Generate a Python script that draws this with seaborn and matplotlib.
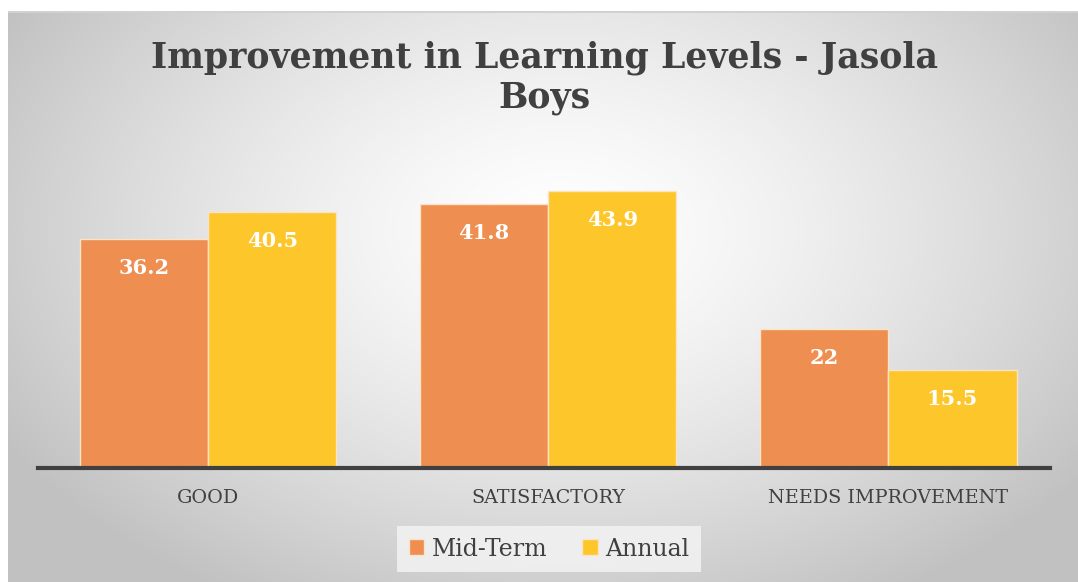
import numpy as np
import pandas as pd
import matplotlib
matplotlib.use("Agg")
import matplotlib.pyplot as plt
import seaborn as sns
from matplotlib.patches import Patch

categories = ["GOOD", "SATISFACTORY", "NEEDS IMPROVEMENT"]
series_names = ["Mid-Term", "Annual"]
mid_term = [36.2, 41.8, 22]
annual = [40.5, 43.9, 15.5]
title = "Improvement in Learning Levels - Jasola\nBoys"

colors = ["#EE8E50", "#FDC62A"]

df = pd.DataFrame({
    "Category": categories * 2,
    "Series": [series_names[0]] * 3 + [series_names[1]] * 3,
    "Value": mid_term + annual,
})

sns.set_theme(style="white")
plt.rcParams["font.family"] = ["DejaVu Serif"]

W, H = 1078, 582
fig = plt.figure(figsize=(W / 100, H / 100), dpi=100)

# radial gradient background
bg = fig.add_axes([0, 0, 1, 1], zorder=-10)
yy, xx = np.mgrid[0:H, 0:W]
r = np.sqrt(((xx - 560) / 640.0) ** 2 + ((yy - 230) / 420.0) ** 2)
g = 1.0 - 0.24 * np.clip(r, 0, 1.0) ** 1.4
img = np.dstack([g, g, g])
img[:11, :, :] = 1.0
img[11:13, 8:, :] = 0.82
img[:, :8, :] = 1.0
bg.imshow(img, extent=[0, W, H, 0], aspect="auto", interpolation="bilinear")
bg.set_axis_off()

ax = fig.add_axes([38 / W, 1 - 468 / H, (1050 - 38) / W, (468 - 152) / H])
ax.patch.set_alpha(0)
sns.barplot(data=df, x="Category", y="Value", hue="Series", palette=colors,
            saturation=1, width=0.755, edgecolor="#fbe3c8", linewidth=1.0,
            ax=ax, legend=False)

ax.set_xlim(-0.5, 2.476)
ax.set_ylim(0, 50)
ax.set_xlabel("")
ax.set_ylabel("")
ax.set_yticks([])
for s in ["top", "right", "left"]:
    ax.spines[s].set_visible(False)
ax.spines["bottom"].set_color("#404040")
ax.spines["bottom"].set_linewidth(3)
ax.tick_params(axis="x", length=0, pad=15, labelsize=13.8, labelcolor="#404040")

for cont in ax.containers:
    for p in cont:
        h = p.get_height()
        ax.annotate(f"{h:g}", (p.get_x() + p.get_width() / 2, h),
                    xytext=(0, -21), textcoords="offset points",
                    ha="center", va="center", color="white",
                    fontsize=15, fontweight="bold")

fig.text(0.505, 1 - 78 / H, title, ha="center", va="center", fontsize=25,
         fontweight="bold", color="#404040", linespacing=1.2)

# legend
handles = [Patch(facecolor=c, edgecolor="#fbe3c8") for c in colors]
leg = fig.legend(handles, series_names, loc="center", bbox_to_anchor=(549 / W, 1 - 549 / H),
                 ncol=2, frameon=True, fontsize=17, handlelength=0.65, handleheight=0.65,
                 handletextpad=0.3, columnspacing=1.5, borderpad=0.5, borderaxespad=0)
leg.get_frame().set_facecolor("#f3f3f3")
leg.get_frame().set_edgecolor("none")
leg.get_frame().set_alpha(0.85)
leg.get_frame().set_boxstyle("square", pad=0)
for t in leg.get_texts():
    t.set_color("#404040")

fig.savefig("out.png", dpi=100)
